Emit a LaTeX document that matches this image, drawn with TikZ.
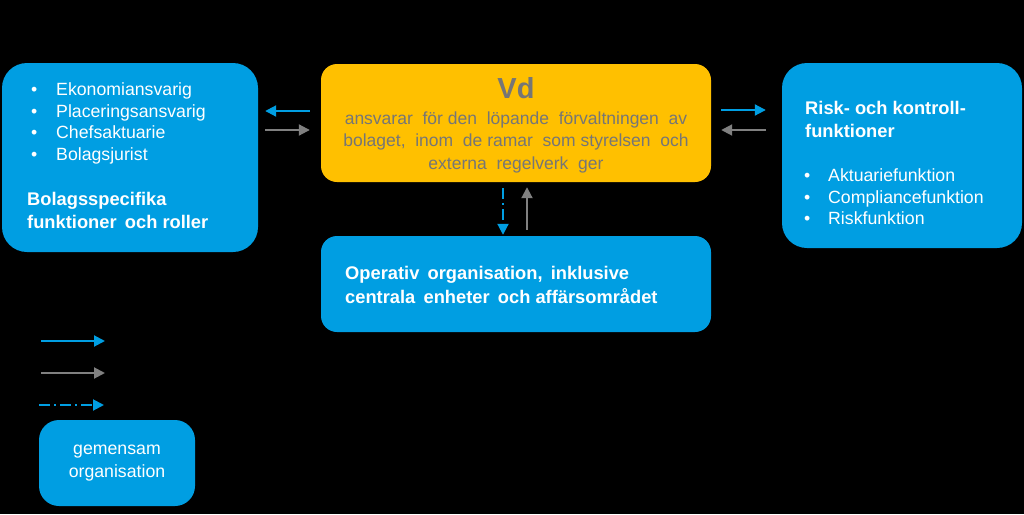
\documentclass[tikz,border=0pt]{standalone}
\usepackage{fontspec}
\setmainfont{Liberation Sans}
\usetikzlibrary{arrows.meta,calc}
\definecolor{cblue}{RGB}{0,158,226}
\definecolor{cyell}{RGB}{255,192,0}
\definecolor{cgray}{RGB}{128,128,128}
\definecolor{tgray}{RGB}{118,118,118}
\newcommand{\wsp}{\hspace{0.45em}}
\begin{document}
\begin{tikzpicture}[x=1pt,y=-1pt,
  bluebox/.style={fill=cblue,draw=none,rounded corners=#1,inner sep=0pt},
  bluebox/.default=25pt,
  yellbox/.style={fill=cyell,draw=none,rounded corners=16pt,inner sep=0pt},
  wtxt/.style={text=white,font=\fontsize{17.7}{21}\selectfont,inner sep=0pt,anchor=base west},
  wbold/.style={text=white,font=\fontsize{18.3}{22}\selectfont\bfseries,inner sep=0pt,anchor=base west},
  gtxt/.style={text=tgray,font=\fontsize{17.5}{21}\selectfont,inner sep=0pt,anchor=base},
  tip/.style={-{Triangle[length=11pt,width=11pt]}},
  barrow/.style={draw=cblue,line width=2pt,tip},
  garrow/.style={draw=cgray,line width=2pt,tip},
  darrow/.style={draw=cblue,line width=2pt,dash pattern=on 11pt off 4pt on 2pt off 4pt,tip}
]
\fill[black] (0,0) rectangle (1024,514);
\useasboundingbox (0,0) rectangle (1024,514);

% boxes
\node[bluebox, minimum width=256pt, minimum height=189pt] (left) at (130,157.5) {};
\node[yellbox, minimum width=390pt, minimum height=118pt] (vd) at (516,123) {};
\node[bluebox, minimum width=240pt, minimum height=185pt] (right) at (902,155.5) {};
\node[bluebox=16pt, minimum width=390pt, minimum height=96pt] (oper) at (516,284) {};
\node[bluebox=20pt, minimum width=156pt, minimum height=86pt] (gem) at (117,463) {};

% left box text
\foreach \y/\t [count=\i] in {95/Ekonomiansvarig,117/Placeringsansvarig,138/Chefsaktuarie,160/Bolagsjurist}{
  \node[wtxt] (lb\i) at (31,\y) {•};
  \node[wtxt] (lt\i) at (56,\y) {\t};
}
\node[wbold] (lh1) at (27,205) {Bolagsspecifika};
\node[wbold] (lh2) at (27,228) {funktioner\wsp och roller};

% right box text
\node[wbold] (rh1) at (805,114) {Risk-\ och kontroll-};
\node[wbold] (rh2) at (805,137) {funktioner};
\foreach \y/\t [count=\i] in {181/Aktuariefunktion,203/Compliancefunktion,224/Riskfunktion}{
  \node[wtxt] (rb\i) at (804,\y) {•};
  \node[wtxt] (rt\i) at (828,\y) {\t};
}

% Vd text
\node[text=tgray,font=\fontsize{29}{33}\selectfont\bfseries,inner sep=0pt,anchor=base] (vdt) at (516,98) {Vd};
\node[gtxt] (vd1) at (516,124) {ansvarar\ \ för den\ \ löpande\ \ förvaltningen\ \ av};
\node[gtxt] (vd2) at (516,146) {bolaget,\ \ inom\ \ de\ ramar\ \ som\ styrelsen\ \ och};
\node[gtxt] (vd3) at (516,169) {externa\ \ regelverk\ \ ger};

% Operativ text
\node[wbold] (op1) at (345,279) {Operativ\wsp organisation,\wsp inklusive};
\node[wbold] (op2) at (345,303) {centrala\wsp enheter\wsp och\ affärsområdet};

% gemensam text
\node[text=white,font=\fontsize{17.7}{21}\selectfont,inner sep=0pt,anchor=base] (g1) at (117,454) {gemensam};
\node[text=white,font=\fontsize{17.7}{21}\selectfont,inner sep=0pt,anchor=base] (g2) at (117,477) {organisation};

% connectors between left and vd
\coordinate (a1s) at ($(vd.west |- 0,111)+(-11,0)$);
\coordinate (a1e) at ($(left.east |- 0,111)+(7,0)$);
\draw[barrow] (a1s) -- (a1e);
\coordinate (a2s) at ($(left.east |- 0,130)+(7,0)$);
\coordinate (a2e) at ($(vd.west |- 0,130)+(-11,0)$);
\draw[garrow] (a2s) -- (a2e);

% connectors between vd and right
\coordinate (a3s) at ($(vd.east |- 0,110)+(10,0)$);
\coordinate (a3e) at ($(right.west |- 0,110)+(-16,0)$);
\draw[barrow] (a3s) -- (a3e);
\coordinate (a4s) at ($(right.west |- 0,130)+(-16,0)$);
\coordinate (a4e) at ($(vd.east |- 0,130)+(10,0)$);
\draw[garrow] (a4s) -- (a4e);

% vertical connectors
\coordinate (a5s) at ($(vd.south -| 503,0)+(0,6)$);
\coordinate (a5e) at ($(oper.north -| 503,0)+(0,-1)$);
\draw[darrow] (a5s) -- (a5e);
\coordinate (a6s) at ($(oper.north -| 527,0)+(0,-6)$);
\coordinate (a6e) at ($(vd.south -| 527,0)+(0,5)$);
\draw[garrow] (a6s) -- (a6e);

% legend
\coordinate (l1s) at (41,341); \coordinate (l1e) at (105,341);
\draw[barrow] (l1s) -- (l1e);
\coordinate (l2s) at (41,373); \coordinate (l2e) at (105,373);
\draw[garrow] (l2s) -- (l2e);
\coordinate (l3s) at (39,405); \coordinate (l3e) at (104,405);
\draw[darrow] (l3s) -- (l3e);
\end{tikzpicture}
\end{document}
